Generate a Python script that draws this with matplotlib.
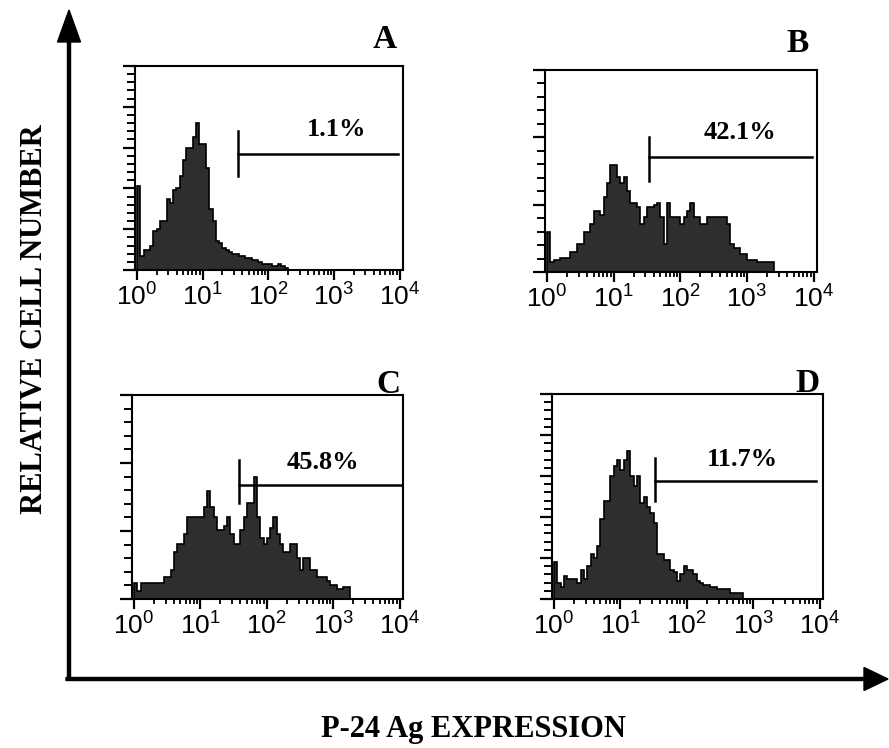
import numpy as np
import matplotlib
matplotlib.use("Agg")
import matplotlib.pyplot as plt
from matplotlib.ticker import LogLocator, MultipleLocator, NullFormatter

plt.rcParams['font.family'] = ['Liberation Sans', 'DejaVu Sans']
plt.rcParams['mathtext.fontset'] = 'custom'
plt.rcParams['mathtext.rm'] = 'Liberation Sans'
plt.rcParams['mathtext.default'] = 'regular'

W, H = 889, 748

################## data: histogram heights (% of box height), bins of 0.05 decade from 10^0
bin_edges_log = np.round(np.arange(0, 4.0001, 0.05), 3)

counts_A = [41, 7, 10, 10, 12, 19, 20, 24, 24, 35, 33, 39, 40, 46, 54, 60, 60, 65, 72, 62,
            62, 50, 30, 24, 14, 13, 11, 10, 9, 8, 8, 7, 7, 6, 6, 5, 5, 4, 3, 3,
            3, 2, 2, 3, 2, 1, 0, 0, 0, 0, 0, 0, 0, 0, 0, 0, 0, 0, 0, 0,
            0, 0, 0, 0, 0, 0, 0, 0, 0, 0, 0, 0, 0, 0, 0, 0, 0, 0, 0, 0]
counts_B = [20, 5, 6, 6, 7, 7, 7, 10, 10, 14, 14, 20, 20, 24, 30, 30, 28, 37, 44, 53,
            53, 47, 44, 47, 40, 34, 34, 32, 24, 27, 32, 32, 33, 34, 27, 14, 34, 27, 27, 27,
            24, 27, 30, 34, 27, 27, 24, 24, 27, 27, 27, 27, 27, 27, 24, 14, 12, 12, 9, 9,
            6, 6, 6, 5, 5, 5, 5, 5, 0, 0, 0, 0, 0, 0, 0, 0, 0, 0, 0, 0]
counts_C = [8, 4, 8, 8, 8, 8, 8, 8, 8, 11, 11, 14, 23, 27, 27, 32, 40, 40, 40, 40,
            40, 45, 53, 45, 40, 34, 34, 36, 40, 32, 27, 27, 34, 40, 47, 47, 60, 40, 30, 27,
            30, 35, 40, 32, 27, 23, 23, 27, 27, 20, 14, 20, 20, 14, 14, 11, 11, 11, 9, 7,
            7, 5, 5, 6, 6, 0, 0, 0, 0, 0, 0, 0, 0, 0, 0, 0, 0, 0, 0, 0]
counts_D = [18, 8, 6, 11, 10, 10, 10, 8, 14, 10, 16, 22, 20, 26, 39, 48, 48, 60, 65, 68,
            63, 68, 72, 60, 55, 60, 47, 50, 45, 42, 37, 22, 22, 19, 19, 14, 13, 9, 12, 16,
            14, 14, 12, 9, 8, 7, 7, 6, 6, 5, 5, 5, 5, 3, 3, 3, 3, 0, 0, 0,
            0, 0, 0, 0, 0, 0, 0, 0, 0, 0, 0, 0, 0, 0, 0, 0, 0, 0, 0, 0]

letters = ['A', 'B', 'C', 'D']
percents = ['1.1%', '42.1%', '45.8%', '11.7%']
# gate: start decade, vertical low, vertical high, horizontal level, end decade
gate_start = [1.54, 1.53, 1.58, 1.52]
gate_low = [46, 45, 47, 48]
gate_high = [68, 67, 68, 69]
gate_level = [57, 57, 56, 57.5]
gate_end = [3.98, 3.97, 4.05, 3.95]
label_pos = [(3.04, 69), (2.9, 69), (2.84, 67), (2.84, 68)]
y_major = [20, 100 / 3, 100 / 3, 20]

################## layout (pixels: left, top, right, bottom)
rects = [(135, 66, 403, 270), (545, 70, 817, 272), (132, 395, 403, 599), (552, 394, 823, 599)]
letter_xy = [(385, 40), (798, 43), (388, 385), (807, 383)]

fig = plt.figure(figsize=(W / 100, H / 100), dpi=100)

# overlay for the big arrows
ov = fig.add_axes([0, 0, 1, 1])
ov.set_xlim(0, W)
ov.set_ylim(H, 0)
ov.axis('off')
ov.arrow(69, 679, 0, -669, width=3, head_width=23, head_length=32,
         length_includes_head=True, color='black')
ov.arrow(66, 679, 822, 0, width=3, head_width=23, head_length=24,
         length_includes_head=True, color='black')

fig.text(35 / W, 1 - 319 / H, 'RELATIVE CELL NUMBER', rotation=90, ha='center', va='center',
         family='Liberation Serif', weight='bold', fontsize=22)
fig.text(473 / W, 1 - 737 / H, 'P-24 Ag EXPRESSION', ha='center', va='baseline',
         family='Liberation Serif', weight='bold', fontsize=22)

edges = 10 ** bin_edges_log
all_counts = [counts_A, counts_B, counts_C, counts_D]

for i, counts in enumerate(all_counts):
    l, t, r, b = rects[i]
    ax = fig.add_axes([l / W, 1 - b / H, (r - l) / W, (b - t) / H])
    ax.stairs(counts, edges, fill=True, color='#2e2e2e')
    ax.stairs(counts, edges, color='black', lw=1.2)
    ax.set_xscale('log')
    ax.set_xlim(10 ** -0.03, 10 ** 4.05)
    ax.set_ylim(0, 100)

    # gate marker
    ax.plot([10 ** gate_start[i]] * 2, [gate_low[i], gate_high[i]], color='black', lw=1.8)
    ax.plot([10 ** gate_start[i], 10 ** gate_end[i]], [gate_level[i]] * 2, color='black', lw=1.8)
    lx, ly = label_pos[i]
    ax.text(10 ** lx, ly, percents[i], ha='center', va='center',
            family='Liberation Serif', weight='bold', fontsize=19)

    ax.xaxis.set_major_locator(LogLocator(base=10, numticks=10))
    ax.xaxis.set_minor_locator(LogLocator(base=10, subs=np.arange(2, 10), numticks=20))
    ax.xaxis.set_minor_formatter(NullFormatter())
    ax.yaxis.set_major_locator(MultipleLocator(y_major[i]))
    ax.yaxis.set_minor_locator(MultipleLocator(y_major[i] / 5))
    ax.set_yticklabels([])
    ax.tick_params(axis='x', which='major', direction='out', length=7, width=1.6,
                   labelsize=19, pad=3)
    ax.tick_params(axis='x', which='minor', direction='out', length=3.5, width=1.3)
    ax.tick_params(axis='y', which='major', direction='out', length=9, width=1.6)
    ax.tick_params(axis='y', which='minor', direction='out', length=6, width=1.4)
    for s in ax.spines.values():
        s.set_linewidth(1.5)

    fig.text(letter_xy[i][0] / W, 1 - letter_xy[i][1] / H, letters[i], ha='center', va='center',
             family='Liberation Serif', weight='bold', fontsize=24)

fig.savefig('out.png', dpi=100)
